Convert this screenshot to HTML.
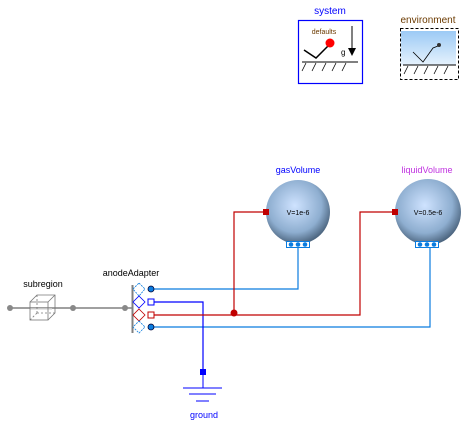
<!DOCTYPE html>
<html><head><style>body{margin:0;background:#fff}svg{display:block}text{font-family:"Liberation Sans",sans-serif}</style></head><body>
<svg width="465" height="427" viewBox="0 0 465 427" xmlns="http://www.w3.org/2000/svg">
<defs>
<radialGradient id="g" cx="45%" cy="40%" r="60%"><stop offset="0" stop-color="#cfe3ff"/><stop offset="0.7" stop-color="#8eaed0"/><stop offset="1" stop-color="#4d6680"/></radialGradient>
<linearGradient id="e" x1="0" y1="0" x2="0" y2="1"><stop offset="0" stop-color="#9ccaf5"/><stop offset="1" stop-color="#e6f2fd"/></linearGradient>
</defs>
<!-- system -->
<text x="330" y="14" font-size="10" fill="#0000ff" text-anchor="middle">system</text>
<rect x="298.5" y="20.5" width="64" height="63" fill="#fff" stroke="#0000ff" stroke-width="1.2"/>
<text x="324" y="34" font-size="7" fill="#6b3a00" text-anchor="middle">defaults</text>
<polyline points="304,50 316,58 328,46" fill="none" stroke="#000" stroke-width="1.5"/>
<circle cx="330" cy="43" r="4.5" fill="#ff0000"/>
<text x="341" y="55" font-size="8" fill="#000">g</text>
<line x1="352" y1="26" x2="352" y2="48" stroke="#000"/>
<polygon points="348,48 356,48 352,56" fill="#000"/>
<line x1="302" y1="62" x2="358" y2="62" stroke="#000"/>
<g stroke="#000" stroke-width="0.8"><line x1="306" y1="63" x2="302" y2="71"/><line x1="316" y1="63" x2="312" y2="71"/><line x1="326" y1="63" x2="322" y2="71"/><line x1="336" y1="63" x2="332" y2="71"/><line x1="346" y1="63" x2="342" y2="71"/></g>
<!-- environment -->
<text x="428" y="23" font-size="10" fill="#6b3a00" text-anchor="middle">environment</text>
<rect x="401" y="31" width="55" height="34" fill="url(#e)"/>
<rect x="400.5" y="28.5" width="58" height="51" fill="none" stroke="#000" stroke-dasharray="3,2"/>
<polyline points="413,52 423,62 433,48 438,46" fill="none" stroke="#000" stroke-width="0.8"/>
<circle cx="439" cy="45" r="2" fill="#333"/>
<line x1="403" y1="65" x2="456" y2="65" stroke="#000"/>
<g stroke="#000" stroke-width="0.8"><line x1="408" y1="66" x2="404" y2="74"/><line x1="418" y1="66" x2="414" y2="74"/><line x1="428" y1="66" x2="424" y2="74"/><line x1="438" y1="66" x2="434" y2="74"/><line x1="448" y1="66" x2="444" y2="74"/></g>
<!-- wires -->
<polyline points="151,289 298,289 298,248" fill="none" stroke="#0a7cdf" stroke-width="1.2"/>
<polyline points="151,327 430,327 430,248" fill="none" stroke="#0a7cdf" stroke-width="1.2"/>
<polyline points="151,302 203,302 203,372" fill="none" stroke="#0000ff" stroke-width="1.2"/>
<polyline points="151,315 360,315 360,212 392,212" fill="none" stroke="#c00000" stroke-width="1.2"/>
<polyline points="234,314 234,212 264,212" fill="none" stroke="#c00000" stroke-width="1.2"/>
<circle cx="234" cy="313" r="3.5" fill="#c00000"/>
<!-- gasVolume -->
<text x="298" y="173" font-size="9" fill="#0000ff" text-anchor="middle">gasVolume</text>
<circle cx="298" cy="212" r="32" fill="url(#g)"/>
<text x="298" y="215" font-size="7" fill="#000" text-anchor="middle">V=1e-6</text>
<rect x="263" y="209" width="6" height="6" fill="#c00000"/>
<rect x="286.5" y="241.5" width="23" height="6" fill="#fff" stroke="#0a7cdf"/>
<g fill="#0a7cdf"><circle cx="291" cy="244.5" r="2.3"/><circle cx="298" cy="244.5" r="2.3"/><circle cx="305" cy="244.5" r="2.3"/></g>
<!-- liquidVolume -->
<text x="427" y="173" font-size="9" fill="#c030e0" text-anchor="middle">liquidVolume</text>
<circle cx="428" cy="212" r="33" fill="url(#g)"/>
<text x="428" y="215" font-size="7" fill="#000" text-anchor="middle">V=0.5e-6</text>
<rect x="392" y="209" width="6" height="6" fill="#c00000"/>
<rect x="415.5" y="241.5" width="23" height="6" fill="#fff" stroke="#0a7cdf"/>
<g fill="#0a7cdf"><circle cx="420" cy="244.5" r="2.3"/><circle cx="427" cy="244.5" r="2.3"/><circle cx="434" cy="244.5" r="2.3"/></g>
<!-- subregion -->
<text x="43" y="287" font-size="9" fill="#000" text-anchor="middle">subregion</text>
<line x1="10" y1="308" x2="132" y2="308" stroke="#808080" stroke-width="1.5"/>
<line x1="30" y1="309" x2="52" y2="309" stroke="#ddd" stroke-width="1.5"/>
<g fill="none" stroke="#777" stroke-width="0.8">
<rect x="30" y="302" width="18" height="18"/><polyline points="30,302 37,295 55,295 55,313 48,320"/><line x1="48" y1="302" x2="55" y2="295"/>
<line x1="37" y1="295" x2="37" y2="313" stroke-dasharray="2,2"/><line x1="37" y1="313" x2="55" y2="313" stroke-dasharray="2,2"/><line x1="37" y1="313" x2="30" y2="320" stroke-dasharray="2,2"/></g>
<circle cx="10" cy="308" r="3" fill="#888"/><circle cx="73" cy="308" r="3" fill="#888"/>
<!-- anodeAdapter -->
<text x="131" y="276" font-size="9" fill="#000" text-anchor="middle">anodeAdapter</text>
<circle cx="125" cy="308" r="3" fill="#888"/>
<line x1="132.5" y1="285" x2="132.5" y2="333" stroke="#808080" stroke-width="2"/>
<g fill="none" stroke-width="0.8">
<polygon points="139,283 145,289 139,296 133,289" stroke="#0a7cdf" stroke-dasharray="2,1"/>
<polygon points="139,296 145,302 139,308 133,302" stroke="#0000ff"/>
<polygon points="139,309 145,315 139,321 133,315" stroke="#c00000"/>
<polygon points="139,321 145,327 139,333 133,327" stroke="#0a7cdf" stroke-dasharray="2,1"/></g>
<circle cx="151" cy="289" r="3" fill="#0a7cdf" stroke="#003" stroke-width="0.8"/>
<rect x="148" y="299" width="6" height="6" fill="#fff" stroke="#0000ff"/>
<rect x="148" y="312" width="6" height="6" fill="#fff" stroke="#c00000"/>
<circle cx="151" cy="327" r="3" fill="#0a7cdf" stroke="#003" stroke-width="0.8"/>
<!-- ground -->
<rect x="200" y="369" width="6" height="6" fill="#0000ff"/>
<line x1="203" y1="375" x2="203" y2="388" stroke="#0000ff"/>
<g stroke="#0000ff" stroke-width="1"><line x1="183" y1="388" x2="222" y2="388"/><line x1="189" y1="394" x2="216" y2="394"/><line x1="196" y1="401" x2="209" y2="401"/></g>
<text x="204" y="418" font-size="9" fill="#0000ff" text-anchor="middle">ground</text>
</svg>
</body></html>
